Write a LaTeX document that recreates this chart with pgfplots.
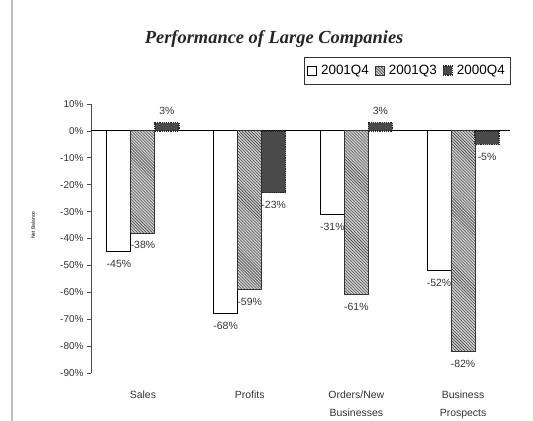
\documentclass[border=0pt]{standalone}
\usepackage{pgfplots}
\pgfplotsset{compat=1.18}
\usepackage{fontspec}
\setmainfont{Liberation Sans}
\newfontfamily\titlefont{Liberation Serif}
\usetikzlibrary{patterns}
\definecolor{darkbar}{HTML}{4A4A4A}
\begin{document}
\begin{tikzpicture}
\path[use as bounding box] (0bp,0bp) rectangle (533bp,421bp);
\draw[gray!50, line width=1.2bp] (12bp,0bp) -- (12bp,421bp);
\begin{axis}[
  at={(91bp,48bp)}, anchor=south west,
  scale only axis, width=419bp, height=269bp,
  xmin=-0.487, xmax=3.44, ymin=-90, ymax=10,
  ybar=0pt, bar width=0.225,
  axis y line*=left, axis x line*=bottom,
  x axis line style={draw=none},
  y axis line style={black!70, line width=0.8bp},
  xtick={0,1,2,3},
  xticklabels={Sales, Profits, {Orders/New\\Businesses}, {Business\\Prospects}},
  xtick style={draw=none},
  xticklabel style={align=center, font=\fontsize{10.5}{18}\selectfont, yshift=-10bp, text=black!80},
  ytick={-90,-80,...,10},
  yticklabel={\pgfmathprintnumber{\tick}\%},
  yticklabel style={font=\fontsize{10}{12}\selectfont, text=black!80},
  ytick style={black!70, line width=0.8bp},
  tick align=outside, major tick length=4bp,
  /pgf/number format/assume math mode=true,
  extra y ticks={0}, extra y tick labels={},
  extra y tick style={grid=major, grid style={black, line width=0.9bp}, major tick length=0pt},
  title={Performance of Large Companies},
  title style={font=\titlefont\bfseries\itshape\fontsize{18.5}{20}\selectfont, text=black!85, at={(axis description cs:0.437,1.22)}, anchor=center},
  ylabel={Net Balance},
  ylabel style={font=\fontsize{5}{6}\selectfont, at={(axis description cs:-0.138,0.55)}, anchor=center},
  nodes near coords={\pgfmathprintnumber{\pgfplotspointmeta}\%},
  every node near coord/.append style={font=\fontsize{10.5}{12}\selectfont, text=black!80, inner ysep=8bp},
  legend style={at={(axis description cs:1.0,1.175)}, anchor=north east, legend columns=-1, draw=black!80,
    font=\fontsize{13.5}{15}\selectfont, inner xsep=3bp, inner ysep=6bp,
    /tikz/every odd column/.append style={column sep=2bp},
    /tikz/every even column/.append style={column sep=4bp}},
  legend image code/.code={\draw[#1] (0bp,-4.5bp) rectangle (9bp,4.5bp);},
]
\addplot[fill=white, draw=black, line width=1bp] coordinates {(0,-45) (1,-68) (2,-31) (3,-52)};
\addplot[fill=gray!40, draw=black!80, line width=1bp, postaction={pattern=north west lines, pattern color=black!80}] coordinates {(0,-38) (1,-59) (2,-61) (3,-82)};
\addplot[fill=darkbar, draw=black!85, line width=1.2bp, densely dotted] coordinates {(0,3) (1,-23) (2,3) (3,-5)};
\legend{2001Q4, 2001Q3, 2000Q4}
\end{axis}
\end{tikzpicture}
\end{document}
